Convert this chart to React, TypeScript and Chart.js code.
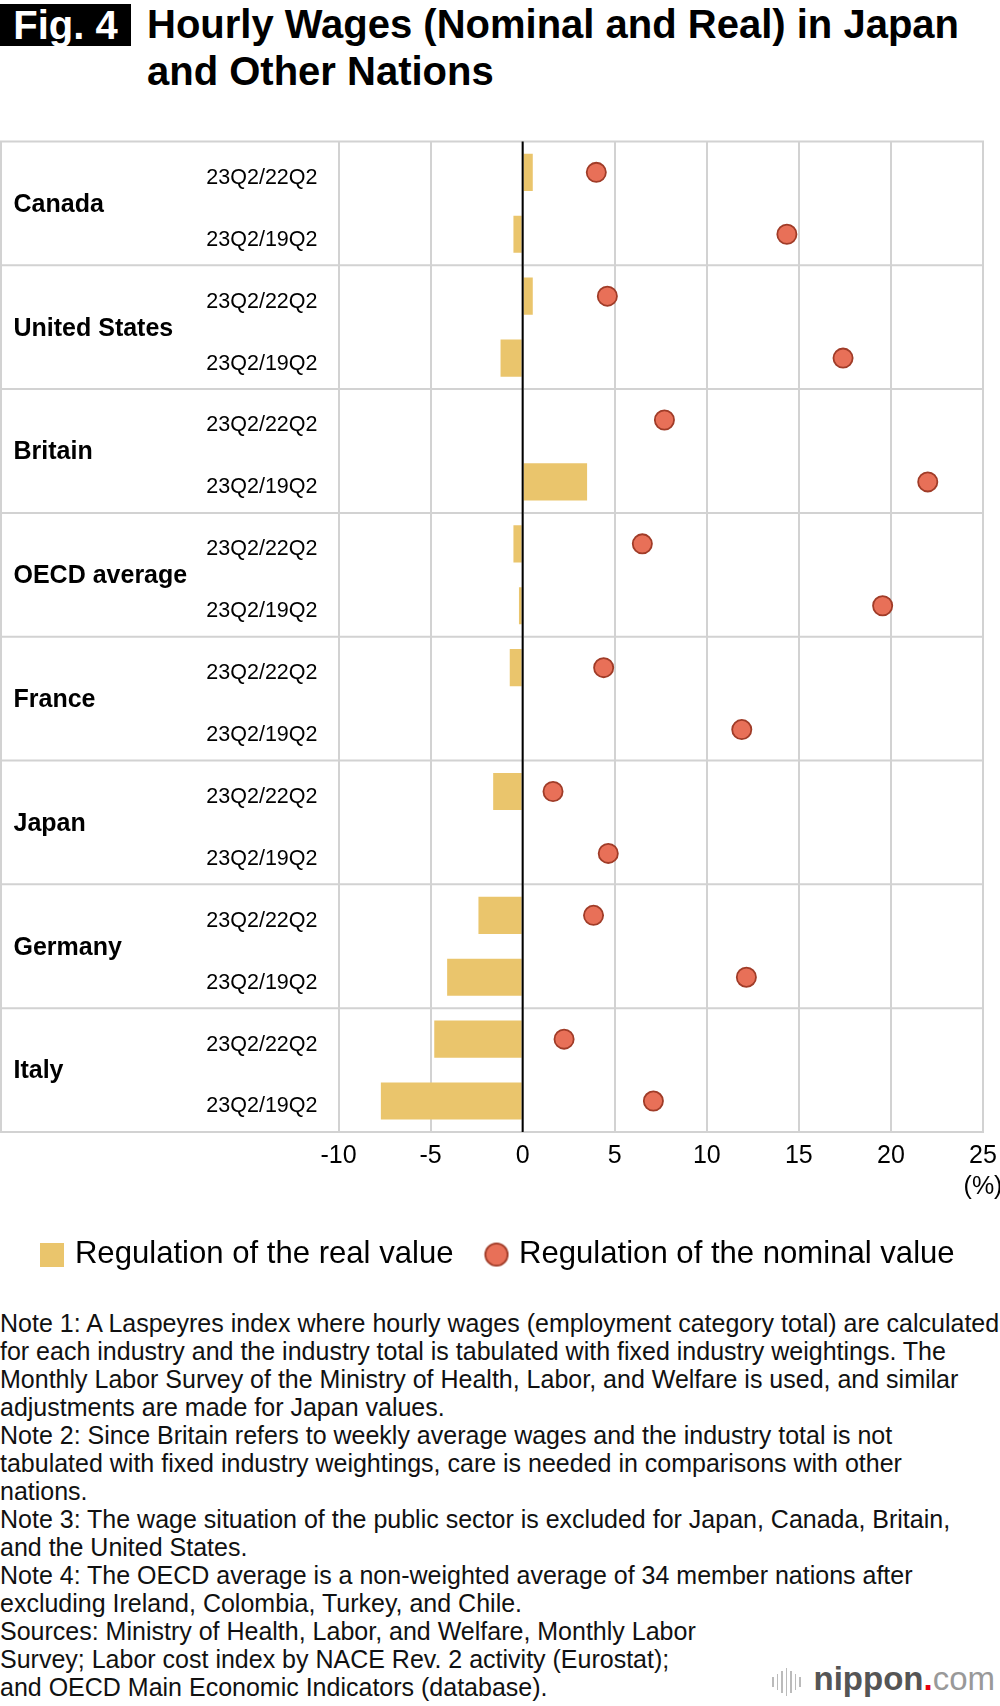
import React, { useEffect, useRef } from 'react';
import { Chart, registerables } from 'chart.js';

Chart.register(...registerables);

// ---------- data ----------
const countries = ['Canada', 'United States', 'Britain', 'OECD average', 'France', 'Japan', 'Germany', 'Italy'];
const periodLabels = [
  '23Q2/22Q2', '23Q2/19Q2',
  '23Q2/22Q2', '23Q2/19Q2',
  '23Q2/22Q2', '23Q2/19Q2',
  '23Q2/22Q2', '23Q2/19Q2',
  '23Q2/22Q2', '23Q2/19Q2',
  '23Q2/22Q2', '23Q2/19Q2',
  '23Q2/22Q2', '23Q2/19Q2',
  '23Q2/22Q2', '23Q2/19Q2',
];
const realValues = [0.55, -0.5, 0.55, -1.2, 0, 3.5, -0.5, -0.2, -0.7, 0, -1.6, 0, -2.4, -4.1, -4.8, -7.7];
const nominalValues = [4.0, 14.35, 4.6, 17.4, 7.7, 22.0, 6.5, 19.55, 4.4, 11.9, 1.65, 4.65, 3.85, 12.15, 2.25, 7.1];
const seriesNames = ['Regulation of the real value', 'Regulation of the nominal value'];
const xMin = -10;
const xMax = 25;
const xStep = 5;
const xUnit = '(%)';

const titleBadge = 'Fig. 4';
const titleLines = ['Hourly Wages (Nominal and Real) in Japan', 'and Other Nations'];
const noteLines = [
  'Note 1: A Laspeyres index where hourly wages (employment category total) are calculated',
  'for each industry and the industry total is tabulated with fixed industry weightings. The',
  'Monthly Labor Survey of the Ministry of Health, Labor, and Welfare is used, and similar',
  'adjustments are made for Japan values.',
  'Note 2: Since Britain refers to weekly average wages and the industry total is not',
  'tabulated with fixed industry weightings, care is needed in comparisons with other',
  'nations.',
  'Note 3: The wage situation of the public sector is excluded for Japan, Canada, Britain,',
  'and the United States.',
  'Note 4: The OECD average is a non-weighted average of 34 member nations after',
  'excluding Ireland, Colombia, Turkey, and Chile.',
  'Sources: Ministry of Health, Labor, and Welfare, Monthly Labor',
  'Survey; Labor cost index by NACE Rev. 2 activity (Eurostat);',
  'and OECD Main Economic Indicators (database).',
];

// ---------- styles ----------
const SANS = "'Liberation Sans', Arial, Helvetica, sans-serif";
const BAR = '#EAC56C';
const DOT = '#E87058';
const DOT_EDGE = '#A03C28';
const GRID = '#D2D2D2';

function makeSquare(): HTMLCanvasElement {
  const c = document.createElement('canvas');
  c.width = 24; c.height = 24;
  const g = c.getContext('2d')!;
  g.fillStyle = BAR;
  g.fillRect(0, 0, 24, 24);
  return c;
}
function makeCircle(): HTMLCanvasElement {
  const c = document.createElement('canvas');
  c.width = 26; c.height = 26;
  const g = c.getContext('2d')!;
  g.beginPath();
  g.arc(13, 13, 11.2, 0, Math.PI * 2);
  g.fillStyle = DOT;
  g.fill();
  g.lineWidth = 1.8;
  g.strokeStyle = DOT_EDGE;
  g.stroke();
  return c;
}

const framePlugin = {
  id: 'frame',
  beforeDatasetsDraw(chart: any) {
    const { ctx, chartArea, scales } = chart;
    const y = scales.y;
    const per = periodLabels.length / countries.length;
    ctx.save();
    ctx.strokeStyle = GRID;
    ctx.lineWidth = 2;
    const tableLeft = 1;
    for (let k = 0; k <= countries.length; k++) {
      const py = y.getPixelForValue(k * per - 0.5);
      ctx.beginPath();
      ctx.moveTo(tableLeft - 1, py);
      ctx.lineTo(chartArea.right + 1, py);
      ctx.stroke();
    }
    ctx.beginPath();
    ctx.moveTo(tableLeft, chartArea.top);
    ctx.lineTo(tableLeft, chartArea.bottom);
    ctx.stroke();
    ctx.restore();
  },
  afterDatasetsDraw(chart: any) {
    const { ctx, chartArea, scales } = chart;
    const x0 = scales.x.getPixelForValue(0);
    ctx.save();
    ctx.strokeStyle = '#000';
    ctx.lineWidth = 2;
    ctx.beginPath();
    ctx.moveTo(x0, chartArea.top);
    ctx.lineTo(x0, chartArea.bottom);
    ctx.stroke();
    ctx.restore();
  },
};

const spacerAxis = (position: string, weight: number, width: number) => ({
  type: 'category',
  axis: 'y',
  position,
  weight,
  labels: [''],
  grid: { display: false, drawTicks: false },
  border: { display: false },
  ticks: { display: false },
  afterFit: (s: any) => { s.width = width; s.paddingTop = 0; s.paddingBottom = 0; },
});

function WageChart() {
  const ref = useRef<HTMLCanvasElement | null>(null);
  useEffect(() => {
    if (!ref.current) return;
    const sq = makeSquare();
    const circ = makeCircle();
    const chart = new Chart(ref.current, {
      type: 'bar',
      data: {
        labels: periodLabels,
        datasets: [
          {
            type: 'bar',
            label: seriesNames[0],
            data: realValues,
            indexAxis: 'y',
            backgroundColor: BAR,
            borderWidth: 0,
            barPercentage: 0.6,
            categoryPercentage: 1,
            xAxisID: 'x',
            yAxisID: 'y',
          } as any,
          {
            type: 'line',
            label: seriesNames[1],
            data: nominalValues,
            indexAxis: 'y',
            showLine: false,
            pointRadius: 9.6,
            pointHoverRadius: 9.6,
            pointBackgroundColor: DOT,
            pointBorderColor: DOT_EDGE,
            pointBorderWidth: 1.8,
            xAxisID: 'x',
            yAxisID: 'y',
          } as any,
        ],
      },
      options: {
        indexAxis: 'y',
        responsive: false,
        animation: false,
        events: [],
        layout: { padding: { top: 9.3, left: 0, right: 0, bottom: 19.9 } },
        scales: {
          x: {
            type: 'linear',
            position: 'bottom',
            min: xMin,
            max: xMax,
            grid: { color: GRID, lineWidth: 2, drawTicks: false },
            border: { display: false },
            ticks: {
              stepSize: xStep,
              padding: 8.5,
              color: '#000',
              font: { family: SANS, size: 25, lineHeight: 1.24 },
              callback: (v: any) => (Number(v) === xMax ? [String(v), xUnit] : String(v)),
            },
            afterFit: (s: any) => { s.paddingLeft = 0; s.paddingRight = 0; s.height = 71; },
          },
          y: {
            type: 'category',
            position: 'left',
            weight: 0,
            offset: true,
            grid: { display: false, drawTicks: false },
            border: { display: false },
            ticks: {
              autoSkip: false,
              padding: 21,
              labelOffset: 5.5,
              color: '#000',
              font: { family: SANS, size: 21.5 },
            },
            afterFit: (s: any) => { s.width = 150; s.paddingTop = 0; s.paddingBottom = 0; },
          },
          yc: {
            type: 'category',
            axis: 'y',
            position: 'left',
            weight: 10,
            labels: countries,
            offset: true,
            grid: { display: false, drawTicks: false },
            border: { display: false },
            ticks: {
              autoSkip: false,
              crossAlign: 'far',
              padding: 0,
              labelOffset: 1.5,
              color: '#000',
              font: { family: SANS, size: 25, weight: 'bold' },
            },
            afterFit: (s: any) => { s.width = 175; s.paddingTop = 0; s.paddingBottom = 0; },
          },
          padLeft: spacerAxis('left', 20, 13.5),
          padRight: spacerAxis('right', 20, 17),
        } as any,
        plugins: {
          tooltip: { enabled: false },
          legend: {
            position: 'bottom',
            labels: {
              usePointStyle: true,
              boxWidth: 14,
              boxHeight: 14,
              padding: 36,
              color: '#000',
              font: { family: SANS, size: 31.1 },
              generateLabels: (c: any) => [
                { text: c.data.datasets[0].label, pointStyle: sq, fillStyle: BAR, strokeStyle: BAR, lineWidth: 0, hidden: false, datasetIndex: 0, fontColor: '#000' },
                { text: c.data.datasets[1].label, pointStyle: circ, fillStyle: DOT, strokeStyle: DOT_EDGE, lineWidth: 0, hidden: false, datasetIndex: 1, fontColor: '#000' },
              ],
            },
          },
        },
      } as any,
      plugins: [framePlugin],
    });
    return () => chart.destroy();
  }, []);
  return (
    <canvas
      ref={ref}
      width={1000}
      height={1170}
      style={{ position: 'absolute', left: 0, top: 130, width: 1000, height: 1170 }}
    />
  );
}

export default function App() {
  const logoBars = [10, 16, 22, 28, 22, 16, 10];
  return (
    <div style={{ position: 'absolute', left: 0, top: 0, width: 1000, height: 1706, background: '#fff', overflow: 'hidden', fontFamily: SANS }}>
      <div
        style={{
          position: 'absolute', left: 0, top: 4, width: 131, height: 42, background: '#000', color: '#fff',
          fontFamily: SANS, fontWeight: 'bold', fontSize: 40, lineHeight: '42px', textAlign: 'center', whiteSpace: 'nowrap',
        }}
      >
        {titleBadge}
      </div>
      <div
        style={{
          position: 'absolute', left: 147, top: 1, color: '#000', fontFamily: SANS, fontWeight: 'bold',
          fontSize: 40, lineHeight: '46.5px', whiteSpace: 'nowrap',
        }}
      >
        {titleLines.map((t, i) => (<div key={i}>{t}</div>))}
      </div>
      <WageChart />
      <div
        style={{
          position: 'absolute', left: 0, top: 1309, color: '#111', fontFamily: SANS, fontSize: 25,
          lineHeight: '28px', whiteSpace: 'pre',
        }}
      >
        {noteLines.map((t, i) => (<div key={i}>{t}</div>))}
      </div>
      <div style={{ position: 'absolute', left: 772, top: 1668, display: 'flex', alignItems: 'center', height: 28, gap: 3 }}>
        {logoBars.map((h, i) => (<div key={i} style={{ width: 1.5, height: h, background: '#bbb' }} />))}
      </div>
      <div
        style={{
          position: 'absolute', right: 5, top: 1662, fontFamily: SANS, fontSize: 33, lineHeight: '33px',
          whiteSpace: 'nowrap', color: '#555',
        }}
      >
        <span style={{ fontWeight: 'bold' }}>nippon</span>
        <span style={{ color: '#E60012', fontWeight: 'bold' }}>.</span>
        <span style={{ color: '#999' }}>com</span>
      </div>
    </div>
  );
}
